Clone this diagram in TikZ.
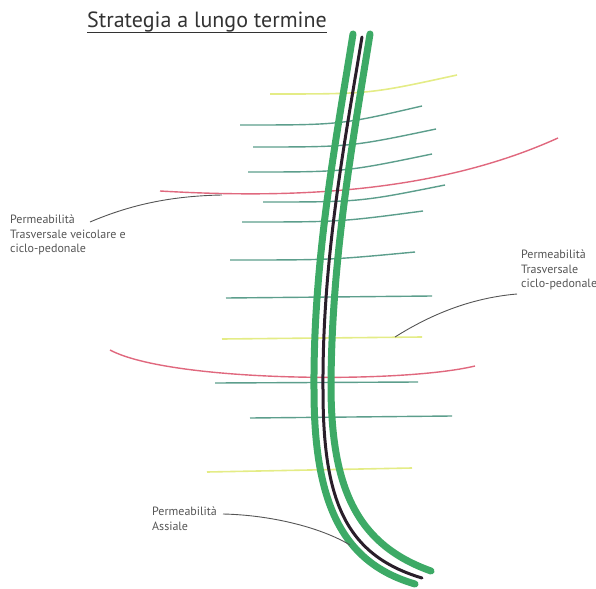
\documentclass[tikz,border=0pt]{standalone}
\usepackage{fontspec}
\setmainfont{PT Sans}
\definecolor{roadgreen}{HTML}{3DAA66}
\definecolor{roadblack}{HTML}{2A1E2A}
\definecolor{teal}{HTML}{5C9E8C}
\definecolor{lyellow}{HTML}{E4EC86}
\definecolor{lred}{HTML}{E0687E}
\definecolor{labelgray}{HTML}{555555}
\definecolor{titlegray}{HTML}{333333}
\tikzset{
  greenedge/.style={draw=roadgreen, line width=7pt, line cap=round},
  blackaxis/.style={draw=roadblack, line width=3pt, line cap=round},
  tealline/.style={draw=teal, line width=1.4pt},
  yellowline/.style={draw=lyellow, line width=1.6pt},
  redline/.style={draw=lred, line width=1.4pt},
  leader/.style={draw=labelgray, line width=0.9pt},
  lbl/.style={text=labelgray, font=\fontsize{12}{14.2}\selectfont, align=left, inner sep=0pt},
}
\begin{document}
\begin{tikzpicture}[x=1pt,y=-1pt]
\useasboundingbox (0,0) rectangle (596,588);
% transverse lines
\draw[yellowline] (270,94) .. controls (370,94) .. (457,75);
\draw[tealline] (240,125) .. controls (340,125) .. (422,106);
\draw[tealline] (253,147) .. controls (350,147) .. (436,129);
\draw[tealline] (248,172) .. controls (345,172) .. (432,154);
\draw[redline] (160,191) .. controls (280,198) and (430,196) .. (558,138);
\draw[tealline] (263,202) .. controls (360,202) .. (445,185);
\draw[tealline] (242,222) .. controls (340,222) .. (423,211);
\draw[tealline] (230,260) .. controls (330,260) .. (415,252);
\draw[tealline] (226,298) -- (432,296);
\draw[yellowline] (222,339) -- (422,337);
\draw[redline] (110,350) .. controls (170,382) and (400,384) .. (475,366);
\draw[tealline] (215,383) -- (418,382);
\draw[tealline] (250,418) -- (452,416);
\draw[yellowline] (207,472) -- (412,468);
% road
\draw[greenedge] (353,34) .. controls (336,140) and (313,260) .. (314,390)
                 .. controls (314,505) and (343,563) .. (415,584);
\draw[greenedge] (370,34) .. controls (353,140) and (331,260) .. (331,390)
                 .. controls (332,490) and (358,545) .. (431,571);
\draw[blackaxis] (362,37) .. controls (345,140) and (322,260) .. (323,390)
                 .. controls (323,500) and (345,555) .. (422,578);
% title
\node[text=titlegray, font=\fontsize{22}{26}\selectfont, inner sep=0pt, anchor=base west] (title) at (87,28) {Strategia a lungo termine};
\draw[titlegray, line width=1.2pt] ([yshift=-4.5pt]title.base west) -- ([yshift=-4.5pt]title.base east);
% labels
\node[lbl, anchor=north west] (lab1) at (10,215) {Permeabilità\\Trasversale veicolare e\\ciclo-pedonale};
\node[lbl, anchor=north west] (lab2) at (521,250) {Permeabilità\\Trasversale\\ciclo-pedonale};
\node[lbl, anchor=north west] (lab3) at (152,507) {Permeabilità\\Assiale};
\coordinate (l1a) at (90,222);
\coordinate (l1b) at (222,195);
\coordinate (l2a) at (517,294);
\coordinate (l2b) at (395,337);
\coordinate (l3a) at (223,514);
\coordinate (l3b) at (350,545);
\draw[leader] (l1a) .. controls (130,205) and (170,196) .. (l1b);
\draw[leader] (l2a) .. controls (470,298) and (430,315) .. (l2b);
\draw[leader] (l3a) .. controls (270,515) and (320,527) .. (l3b);
\end{tikzpicture}
\end{document}
